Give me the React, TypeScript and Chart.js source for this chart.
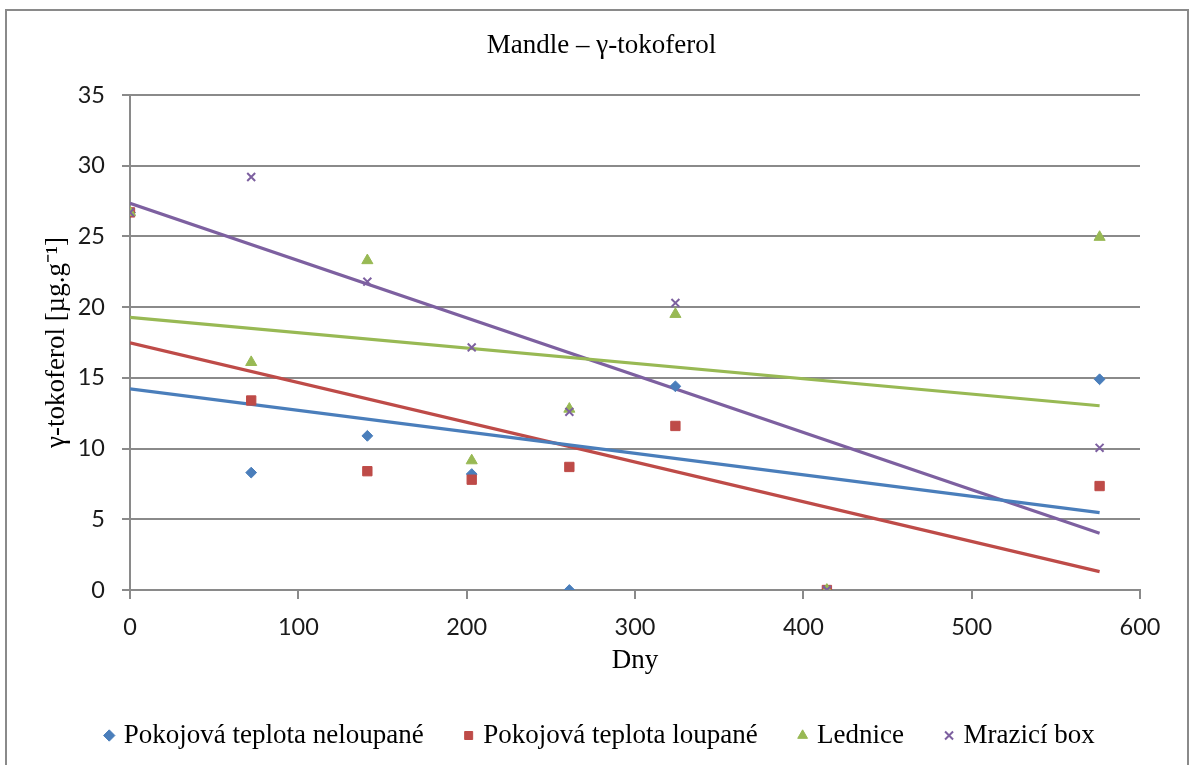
import React, { useEffect, useRef } from "react";
import { Chart, registerables } from "chart.js";

Chart.register(...registerables);

const days = [0, 72, 141, 203, 261, 324, 414, 576];
const roomUnpeeled = [26.7, 8.3, 10.9, 8.2, 0, 14.4, 0, 14.9];
const roomPeeled = [26.7, 13.4, 8.4, 7.8, 8.7, 11.6, 0, 7.35];
const fridge = [26.7, 16.1, 23.3, 9.15, 12.8, 19.5, 0, 24.95];
const freezer = [26.7, 29.2, 21.8, 17.15, 12.6, 20.3, 0, 10.05];

const trendDays = [0, 576];
const trendRoomUnpeeled = [14.22, 5.47];
const trendRoomPeeled = [17.47, 1.3];
const trendFridge = [19.27, 13.03];
const trendFreezer = [27.34, 4.01];

const seriesNames = [
  "Pokojová teplota neloupané",
  "Pokojová teplota loupané",
  "Lednice",
  "Mrazicí box",
];
const xTicks = [0, 100, 200, 300, 400, 500, 600];
const yTicks = [0, 5, 10, 15, 20, 25, 30, 35];

const colors = ["#4A7EBB", "#BE4B48", "#98B954", "#7D60A0"];
const GRID = "#8a8a8a";
const SERIF = "'Liberation Serif', 'Times New Roman', serif";

const pts = (xs: number[], ys: number[]) => xs.map((x, i) => ({ x, y: ys[i] }));

const borderPlugin = {
  id: "outerBorder",
  beforeDraw(chart: any) {
    const ctx = chart.ctx;
    ctx.save();
    ctx.fillStyle = "#ffffff";
    ctx.fillRect(0, 0, chart.width, chart.height);
    ctx.strokeStyle = GRID;
    ctx.lineWidth = 2;
    ctx.strokeRect(6, 10, 1182, 800);
    ctx.restore();
  },
};

export default function App() {
  const ref = useRef<HTMLCanvasElement | null>(null);
  useEffect(() => {
    if (!ref.current) return;
    const values = [roomUnpeeled, roomPeeled, fridge, freezer];
    const trends = [trendRoomUnpeeled, trendRoomPeeled, trendFridge, trendFreezer];
    const styles = [
      { pointStyle: "rectRot", radius: 5.4, bw: 1 },
      { pointStyle: "rect", radius: 6.6, bw: 1 },
      { pointStyle: "triangle", radius: 6.4, bw: 1 },
      { pointStyle: "crossRot", radius: 5.6, bw: 2 },
    ];
    const pointSets: any[] = values.map((v, i) => ({
      type: "scatter",
      label: seriesNames[i],
      data: pts(days, v),
      showLine: false,
      pointStyle: styles[i].pointStyle,
      pointRadius: styles[i].radius,
      pointBorderWidth: styles[i].bw,
      borderWidth: styles[i].bw,
      backgroundColor: colors[i],
      borderColor: colors[i],
      order: 4 - i,
    }));
    const trendSets: any[] = trends.map((t, i) => ({
      type: "scatter",
      label: "trend " + i,
      data: pts(trendDays, t),
      showLine: true,
      pointRadius: 0,
      borderWidth: 3.2,
      borderColor: colors[i],
      backgroundColor: colors[i],
      order: 10 + i,
    }));
    const chart = new Chart(ref.current, {
      type: "scatter",
      data: { datasets: [...pointSets, ...trendSets] },
      plugins: [borderPlugin],
      options: {
        responsive: false,
        animation: false,
        events: [],
        layout: { padding: { left: 14, right: 0, top: 0, bottom: 6 } },
        plugins: {
          tooltip: { enabled: false },
          title: {
            display: true,
            text: "Mandle – γ-tokoferol",
            color: "#000",
            font: { family: SERIF, size: 27, weight: "normal" },
            padding: { top: 30, bottom: 32.6 },
          },
          legend: {
            display: true,
            position: "bottom",
            labels: {
              usePointStyle: true,
              boxWidth: 2,
              boxHeight: 8,
              padding: 44,
              color: "#000",
              font: { family: SERIF, size: 27 },
              filter: (item: any) => item.datasetIndex < 4,
              sort: (a: any, b: any) => a.datasetIndex - b.datasetIndex,
            },
          },
        },
        scales: {
          x: {
            type: "linear",
            position: "bottom",
            min: xTicks[0],
            max: xTicks[xTicks.length - 1],
            afterBuildTicks: (s: any) => {
              s.ticks = xTicks.map((v) => ({ value: v }));
            },
            afterFit: (s: any) => {
              s.height = 88;
            },
            grid: {
              drawOnChartArea: false,
              drawTicks: true,
              tickLength: 9,
              color: GRID,
              lineWidth: 2,
            },
            border: { display: true, color: GRID, width: 2 },
            ticks: {
              padding: 14,
              color: "#1a1a1a",
              font: { family: "Lato", size: 23.5 },
            },
            title: {
              display: true,
              text: "Dny",
              color: "#000",
              font: { family: SERIF, size: 27 },
              padding: { top: 0, bottom: 1 },
            },
          },
          y: {
            type: "linear",
            position: "left",
            min: yTicks[0],
            max: yTicks[yTicks.length - 1],
            afterBuildTicks: (s: any) => {
              s.ticks = yTicks.map((v) => ({ value: v }));
            },
            afterFit: (s: any) => {
              s.width = 116;
            },
            grid: {
              drawOnChartArea: true,
              drawTicks: true,
              tickLength: 8,
              color: GRID,
              lineWidth: 2,
            },
            border: { display: true, color: GRID, width: 2 },
            ticks: {
              padding: 17,
              color: "#1a1a1a",
              font: { family: "Lato", size: 23.5 },
            },
            title: {
              display: true,
              text: "γ-tokoferol [µg.g⁻¹]",
              color: "#000",
              font: { family: SERIF, size: 27 },
              padding: { top: 27, bottom: 0 },
            },
          },
          yR: {
            type: "linear",
            position: "right",
            display: true,
            grid: { display: false },
            ticks: { display: false },
            border: { display: false },
            afterFit: (s: any) => {
              s.width = 49;
            },
          },
        },
      } as any,
    });
    return () => chart.destroy();
  }, []);
  return (
    <div style={{ position: "absolute", left: 0, top: 0, width: 1189, height: 765, background: "#fff" }}>
      <canvas ref={ref} width={1189} height={765} style={{ display: "block" }} />
    </div>
  );
}
